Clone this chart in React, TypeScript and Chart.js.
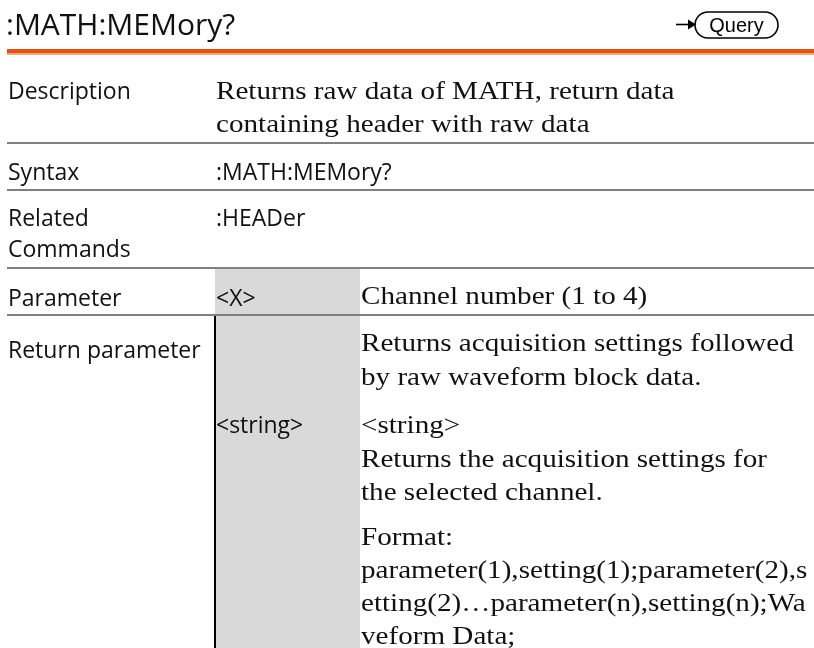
import React, { useEffect, useRef } from "react";
import { Chart, registerables } from "chart.js";

Chart.register(...registerables);

// ---- content ----
const titleText = ":MATH:MEMory?";
const badgeText = "Query";
const rowLabels: string[][] = [
  ["Description"],
  ["Syntax"],
  ["Related", "Commands"],
  ["Parameter"],
  ["Return parameter"],
];
const descriptionLines = ["Returns raw data of MATH, return data", "containing header with raw data"];
const syntaxText = ":MATH:MEMory?";
const relatedText = ":HEADer";
const paramName = "<X>";
const paramDesc = "Channel number (1 to 4)";
const returnIntro = ["Returns acquisition settings followed", "by raw waveform block data."];
const returnName = "<string>";
const returnDesc = ["<string>", "Returns the acquisition settings for", "the selected channel."];
const formatLines = [
  "Format:",
  "parameter(1),setting(1);parameter(2),s",
  "etting(2)\u2026parameter(n),setting(n);Wa",
  "veform Data;",
];

const SANS = '"Open Sans", "Noto Sans", sans-serif';
const SERIF = '"Liberation Serif", "DejaVu Serif", serif';
const SERIF_STRETCH = 1.12;

const tablePlugin = {
  id: "manualTable",
  beforeDraw(chart: any) {
    const ctx: CanvasRenderingContext2D = chart.ctx;
    const W = chart.width;
    const H = chart.height;
    ctx.save();
    ctx.fillStyle = "#ffffff";
    ctx.fillRect(0, 0, W, H);

    // title
    ctx.fillStyle = "#111";
    ctx.textBaseline = "alphabetic";
    ctx.textAlign = "left";
    ctx.font = `30px ${SANS}`;
    ctx.fillText(titleText, 6, 35);

    // query badge
    ctx.strokeStyle = "#000";
    ctx.lineWidth = 1.6;
    ctx.beginPath();
    ctx.moveTo(676, 24.5);
    ctx.lineTo(690, 24.5);
    ctx.stroke();
    ctx.fillStyle = "#000";
    ctx.beginPath();
    ctx.moveTo(688, 19.5);
    ctx.lineTo(696, 24.5);
    ctx.lineTo(688, 29.5);
    ctx.closePath();
    ctx.fill();
    const bx = 695, by = 12, bw = 83, bh = 26, r = 13;
    ctx.beginPath();
    ctx.moveTo(bx + r, by);
    ctx.lineTo(bx + bw - r, by);
    ctx.arc(bx + bw - r, by + r, r, -Math.PI / 2, Math.PI / 2);
    ctx.lineTo(bx + r, by + bh);
    ctx.arc(bx + r, by + r, r, Math.PI / 2, (3 * Math.PI) / 2);
    ctx.closePath();
    ctx.stroke();
    ctx.font = `21px "Liberation Sans", Arial, sans-serif`;
    ctx.textAlign = "center";
    ctx.save();
    ctx.translate(bx + bw / 2, 32);
    ctx.scale(0.95, 1);
    ctx.fillText(badgeText, 0, 0);
    ctx.restore();
    ctx.textAlign = "left";

    // orange rule
    ctx.fillStyle = "#E4520C";
    ctx.fillRect(7, 49, W - 7, 4);
    ctx.fillStyle = "#F5A77B";
    ctx.fillRect(7, 53, W - 7, 2);

    // gray parameter column
    ctx.fillStyle = "#D9D9D9";
    ctx.fillRect(215, 268, 145, H - 268);

    // horizontal rules
    ctx.fillStyle = "#808080";
    [142, 189, 267, 314].forEach((y) => ctx.fillRect(7, y, W - 7, 2));

    // black vertical rule
    ctx.fillStyle = "#000";
    ctx.fillRect(214, 316, 2, H - 316);

    // row labels
    ctx.fillStyle = "#111";
    ctx.font = `23px ${SANS}`;
    const labelBase = [[99], [180], [226, 257], [306], [358]];
    rowLabels.forEach((lines, i) =>
      lines.forEach((t, j) => ctx.fillText(t, 8, labelBase[i][j]))
    );

    // column 2 (sans)
    ctx.fillText(syntaxText, 216, 180);
    ctx.fillText(relatedText, 216, 226);
    ctx.fillText(paramName, 216, 306);
    ctx.fillText(returnName, 216, 433);

    // serif texts
    ctx.fillStyle = "#111";
    ctx.font = `26px ${SERIF}`;
    const serif = (t: string, x: number, y: number) => {
      ctx.save();
      ctx.translate(x, y);
      ctx.scale(SERIF_STRETCH, 1);
      ctx.fillText(t, 0, 0);
      ctx.restore();
    };
    const lh = 33.5;
    descriptionLines.forEach((t, i) => serif(t, 216, 99 + i * 33));
    serif(paramDesc, 361, 304);
    returnIntro.forEach((t, i) => serif(t, 361, 351 + i * lh));
    returnDesc.forEach((t, i) => serif(t, 361, 433 + i * lh));
    formatLines.forEach((t, i) => serif(t, 361, 545 + i * 33));
    ctx.restore();
  },
};

export default function App() {
  const ref = useRef<HTMLCanvasElement>(null);
  useEffect(() => {
    document.body.style.margin = "0";
    const chart = new Chart(ref.current!, {
      type: "scatter",
      data: { datasets: [{ data: [] }] },
      options: {
        animation: false,
        responsive: false,
        devicePixelRatio: 1,
        events: [],
        plugins: { legend: { display: false }, tooltip: { enabled: false } },
        scales: { x: { display: false }, y: { display: false } },
      },
      plugins: [tablePlugin],
    });
    return () => chart.destroy();
  }, []);
  return (
    <div style={{ width: 814, height: 648 }}>
      <canvas ref={ref} width={814} height={648} />
    </div>
  );
}
